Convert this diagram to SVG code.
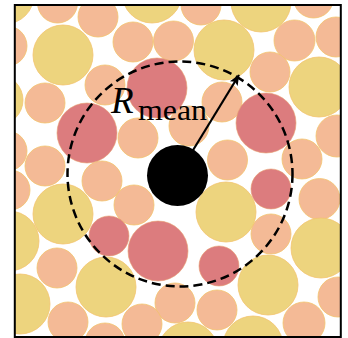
<svg xmlns="http://www.w3.org/2000/svg" width="348" height="338" viewBox="0 0 348 338">
<style>
.p{fill:#F4BA96;stroke:#F2C46E;stroke-width:0.8}
.y{fill:#EDD47E;stroke:#F2C46E;stroke-width:0.8}
.r{fill:#DC7C7E;stroke:#E8A070;stroke-width:0.6}
.lbl{font-family:"Liberation Serif","DejaVu Serif",serif;fill:#000}
</style>
<defs>
<clipPath id="frameClip"><rect x="14.8" y="5" width="326" height="332"/></clipPath>
<marker id="ah" markerUnits="userSpaceOnUse" markerWidth="14" markerHeight="12" refX="10" refY="4.5" orient="auto" overflow="visible">
<path d="M0,0 L10.5,4.5 L0,9 L2.2,4.5 Z" fill="#000"/>
</marker>
</defs>
<rect width="348" height="338" fill="#fff"/>
<g id="particles" clip-path="url(#frameClip)">
<g id="peach">
<circle class="p" cx="57.5" cy="3" r="20"/>
<circle class="p" cx="98" cy="17" r="20"/>
<circle class="p" cx="201" cy="5" r="20"/>
<circle class="p" cx="313.5" cy="-2" r="20"/>
<circle class="p" cx="7" cy="46" r="20"/>
<circle class="p" cx="133" cy="42" r="20"/>
<circle class="p" cx="173.5" cy="41" r="20"/>
<circle class="p" cx="294.5" cy="40.5" r="20.5"/>
<circle class="p" cx="336" cy="37" r="20"/>
<circle class="p" cx="270" cy="72" r="20"/>
<circle class="p" cx="105" cy="85" r="20"/>
<circle class="p" cx="45" cy="103" r="20"/>
<circle class="p" cx="222" cy="102" r="20"/>
<circle class="p" cx="189" cy="126" r="20"/>
<circle class="p" cx="138" cy="138" r="20"/>
<circle class="p" cx="337" cy="136" r="21"/>
<circle class="p" cx="7" cy="151" r="20"/>
<circle class="p" cx="45" cy="166" r="20"/>
<circle class="p" cx="227.5" cy="160" r="20"/>
<circle class="p" cx="302" cy="159" r="20"/>
<circle class="p" cx="10" cy="190" r="20"/>
<circle class="p" cx="102" cy="181" r="20"/>
<circle class="p" cx="134" cy="205" r="20"/>
<circle class="p" cx="319.5" cy="199" r="20.5"/>
<circle class="p" cx="271" cy="234" r="20"/>
<circle class="p" cx="57" cy="268" r="20"/>
<circle class="p" cx="175" cy="303" r="20"/>
<circle class="p" cx="217" cy="310" r="20"/>
<circle class="p" cx="338" cy="297" r="20"/>
<circle class="p" cx="304" cy="323" r="21"/>
<circle class="p" cx="68" cy="322" r="20"/>
<circle class="p" cx="142" cy="324" r="20"/>
<circle class="p" cx="105" cy="343" r="20"/>
</g>
<g id="yellow">
<circle class="y" cx="5" cy="-5" r="29"/>
<circle class="y" cx="152" cy="-7" r="30"/>
<circle class="y" cx="261" cy="2" r="30"/>
<circle class="y" cx="63" cy="55" r="30"/>
<circle class="y" cx="224" cy="50" r="30"/>
<circle class="y" cx="319" cy="87" r="30"/>
<circle class="y" cx="-2" cy="100" r="25"/>
<circle class="y" cx="63" cy="214" r="30"/>
<circle class="y" cx="226" cy="212" r="30"/>
<circle class="y" cx="9" cy="241" r="30"/>
<circle class="y" cx="321" cy="248" r="30"/>
<circle class="y" cx="106" cy="287" r="30"/>
<circle class="y" cx="268" cy="285" r="30"/>
<circle class="y" cx="20" cy="304" r="30"/>
<circle class="y" cx="188" cy="352" r="30"/>
<circle class="y" cx="253" cy="346" r="30"/>
</g>
<g id="red">
<circle class="r" cx="157" cy="88" r="30"/>
<circle class="r" cx="87" cy="133" r="30"/>
<circle class="r" cx="266" cy="123" r="30"/>
<circle class="r" cx="271" cy="189" r="20"/>
<circle class="r" cx="109" cy="236" r="20"/>
<circle class="r" cx="158" cy="251" r="30"/>
<circle class="r" cx="219" cy="266" r="20"/>
</g>
</g>
<g id="center-particle">
<circle cx="177.5" cy="175.5" r="30.5" fill="#000"/>
</g>
<g id="mean-radius-circle">
<circle cx="180" cy="174" r="112.5" fill="none" stroke="#000" stroke-width="2.5" stroke-dasharray="9 5"/>
</g>
<g id="connectors">
<line x1="177.5" y1="175.5" x2="239" y2="75" stroke="#000" stroke-width="2.2" marker-end="url(#ah)"/>
</g>
<g id="label">
<text class="lbl" x="111" y="113" font-size="37" font-style="italic">R</text>
<text class="lbl" x="138" y="120" font-size="30" textLength="69" lengthAdjust="spacingAndGlyphs">mean</text>
</g>
<g id="frame">
<rect x="14.8" y="5" width="326" height="332" fill="none" stroke="#000" stroke-width="2"/>
</g>
</svg>
